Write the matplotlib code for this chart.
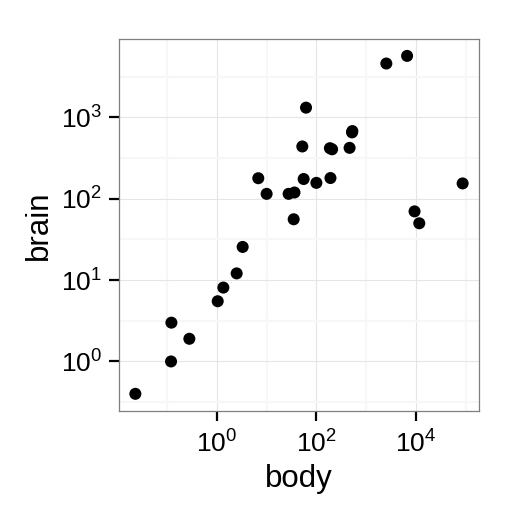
import numpy as np
import matplotlib
matplotlib.use("Agg")
import matplotlib.pyplot as plt
from matplotlib.ticker import FixedLocator, FuncFormatter

# MASS::Animals - body weight (kg), brain weight (g)
animals = ["Mountain beaver", "Cow", "Grey wolf", "Goat", "Guinea pig",
           "Dipliodocus", "Asian elephant", "Donkey", "Horse", "Potar monkey",
           "Cat", "Giraffe", "Gorilla", "Human", "African elephant",
           "Triceratops", "Rhesus monkey", "Kangaroo", "Golden hamster",
           "Mouse", "Rabbit", "Sheep", "Jaguar", "Chimpanzee", "Rat",
           "Brachiosaurus", "Mole", "Pig"]
body = [1.35, 465, 36.33, 27.66, 1.04, 11700, 2547, 187.1, 521, 10,
        3.3, 529, 207, 62, 6654, 9400, 6.8, 35, 0.12, 0.023, 2.5, 55.5,
        100, 52.16, 0.28, 87000, 0.122, 192]
brain = [8.1, 423, 119.5, 115, 5.5, 50, 4603, 419, 655, 115, 25.6, 680,
         406, 1320, 5712, 70, 179, 56, 1, 0.4, 12.1, 175, 157, 440, 1.9,
         154.5, 3, 180]

x_breaks = [1, 100, 10000]
y_breaks = [1, 10, 100, 1000]

plt.rcParams['font.family'] = ['Liberation Sans', 'DejaVu Sans']
plt.rcParams['mathtext.fontset'] = 'custom'
plt.rcParams['mathtext.rm'] = 'Liberation Sans'
plt.rcParams['mathtext.it'] = 'Liberation Sans'


def log_limits(v, mult=0.05):
    lv = np.log10(v)
    lo, hi = lv.min(), lv.max()
    pad = (hi - lo) * mult
    return 10 ** (lo - pad), 10 ** (hi + pad)


def pow10(v, pos):
    return r'$\mathregular{10^{%d}}$' % int(round(np.log10(v)))


fig = plt.figure(figsize=(5.18, 5.18), dpi=100)
ax = fig.add_axes([0.2297, 0.2071, 0.6950, 0.7176])

ax.scatter(body, brain, s=75, color='black', edgecolors='none', zorder=3)
ax.set_xscale('log')
ax.set_yscale('log')
ax.set_xlim(*log_limits(np.array(body)))
ax.set_ylim(*log_limits(np.array(brain)))

ax.xaxis.set_major_locator(FixedLocator(x_breaks))
ax.yaxis.set_major_locator(FixedLocator(y_breaks))
ax.xaxis.set_minor_locator(FixedLocator([0.1, 10, 1000, 100000]))
ax.yaxis.set_minor_locator(FixedLocator([10 ** (k + 0.5) for k in range(-1, 4)]))
ax.xaxis.set_major_formatter(FuncFormatter(pow10))
ax.yaxis.set_major_formatter(FuncFormatter(pow10))
ax.xaxis.set_minor_formatter(FuncFormatter(lambda v, p: ''))
ax.yaxis.set_minor_formatter(FuncFormatter(lambda v, p: ''))

ax.grid(which='major', color='#e5e5e5', linewidth=0.8)
ax.grid(which='minor', color='#f7f7f7', linewidth=1.6)
ax.set_axisbelow(True)
for sp in ax.spines.values():
    sp.set_color('#7f7f7f')
    sp.set_linewidth(0.9)

ax.tick_params(which='major', length=7, width=1.6, color='black',
               labelsize=19, labelcolor='black', pad=5)
ax.tick_params(axis='x', which='major', pad=7)
ax.tick_params(which='minor', length=0)

ax.set_xlabel('body', fontsize=22.5, labelpad=5)
ax.set_ylabel('brain', fontsize=22.5, labelpad=5)

fig.savefig('out.png', dpi=100, facecolor='white')
